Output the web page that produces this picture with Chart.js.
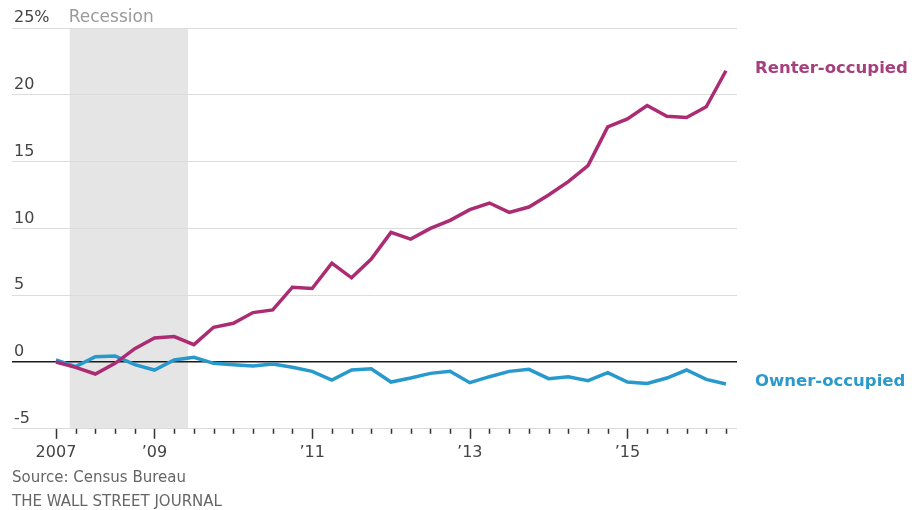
<!DOCTYPE html>
<html>
<head>
<meta charset="utf-8">
<title>Renter vs owner households</title>
<script src="https://cdn.jsdelivr.net/npm/chart.js@4.4.1/dist/chart.umd.min.js"></script>
<style>
  html, body { margin: 0; padding: 0; background: #fff; }
  #wrap { position: relative; width: 914px; height: 510px; }
  #wrap canvas { position: absolute; left: 0; top: 0; }
  .note { position: absolute; left: 12px; font-family: "DejaVu Sans", sans-serif; font-size: 15px; color: #666; line-height: 18px; }
  #source { top: 468px; }
  #credit { top: 492px; }
</style>
</head>
<body>
<div id="wrap">
  <canvas id="myChart" width="914" height="510"></canvas>
  <div class="note" id="source">Source: Census Bureau</div>
  <div class="note" id="credit">THE WALL STREET JOURNAL</div>
</div>
<script>
// quarters, 2007 Q4 through 2016 Q2
const quarters = [
    '2007 Q4',
    '2008 Q1', '2008 Q2', '2008 Q3', '2008 Q4',
    '2009 Q1', '2009 Q2', '2009 Q3', '2009 Q4',
    '2010 Q1', '2010 Q2', '2010 Q3', '2010 Q4',
    '2011 Q1', '2011 Q2', '2011 Q3', '2011 Q4',
    '2012 Q1', '2012 Q2', '2012 Q3', '2012 Q4',
    '2013 Q1', '2013 Q2', '2013 Q3', '2013 Q4',
    '2014 Q1', '2014 Q2', '2014 Q3', '2014 Q4',
    '2015 Q1', '2015 Q2', '2015 Q3', '2015 Q4',
    '2016 Q1', '2016 Q2'
];

// % change in households since 2007
const renterOccupied = [
    0.0, -0.4, -0.9, -0.1, 1.0, 1.8, 1.9, 1.3, 2.6, 2.9, 3.7, 3.9,
    5.6, 5.5, 7.4, 6.3, 7.7, 9.7, 9.2, 10.0, 10.6, 11.4, 11.9, 11.2,
    11.6, 12.5, 13.5, 14.7, 17.6, 18.2, 19.2, 18.4, 18.3, 19.1, 21.8
];
const ownerOccupied = [
    0.15, -0.35, 0.4, 0.45, -0.2, -0.6, 0.15, 0.35, -0.1, -0.2, -0.3, -0.15,
    -0.4, -0.7, -1.35, -0.6, -0.5, -1.5, -1.2, -0.85, -0.7, -1.55, -1.1, -0.7,
    -0.55, -1.25, -1.1, -1.4, -0.8, -1.5, -1.6, -1.2, -0.6, -1.3, -1.65
];

const yTicks = [-5, 0, 5, 10, 15, 20, 25];
const majorQuarters = ['2007 Q4', '2009 Q1', '2011 Q1', '2013 Q1', '2015 Q1'];
const majorLabels = ['2007', '\u201909', '\u201911', '\u201913', '\u201915'];

// recession, in quarter positions
const recession = [0.7, 6.7];

const renterColor = '#ab2c73';
const ownerColor = '#2899cc';
const labelFont = { family: 'DejaVu Sans', size: 16 };

const toPoints = (values) => values.map((v, i) => ({ x: i, y: v }));

const decorations = {
    id: 'decorations',
    beforeDraw(chart) {
        const { ctx, chartArea, scales } = chart;
        const x0 = scales.x.getPixelForValue(recession[0]);
        const x1 = scales.x.getPixelForValue(recession[1]);
        ctx.save();
        ctx.fillStyle = '#e5e5e5';
        ctx.fillRect(x0, chartArea.top, x1 - x0, chartArea.bottom - chartArea.top);
        ctx.fillStyle = '#9a9a9a';
        ctx.font = '17px "DejaVu Sans", sans-serif';
        ctx.textBaseline = 'middle';
        ctx.fillText('Recession', x0 - 1, chartArea.top - 10);
        ctx.restore();
    },
    afterDatasetsDraw(chart) {
        const { ctx, chartArea, scales } = chart;
        ctx.save();
        // quarterly tick marks under the axis
        ctx.strokeStyle = '#333';
        ctx.lineWidth = 1.5;
        quarters.forEach((q, i) => {
            const x = Math.round(scales.x.getPixelForValue(i)) + 0.5;
            const len = majorQuarters.includes(q) ? 10 : 5;
            ctx.beginPath();
            ctx.moveTo(x, chartArea.bottom);
            ctx.lineTo(x, chartArea.bottom + len);
            ctx.stroke();
        });
        // series labels at the line ends
        ctx.font = 'bold 16.5px "DejaVu Sans", sans-serif';
        ctx.textBaseline = 'middle';
        const last = quarters.length - 1;
        ctx.fillStyle = '#a63f7d';
        ctx.fillText('Renter-occupied', 755, scales.y.getPixelForValue(renterOccupied[last]) - 2);
        ctx.fillStyle = '#2a9acb';
        ctx.fillText('Owner-occupied', 755, scales.y.getPixelForValue(ownerOccupied[last]) - 2);
        ctx.restore();
    }
};

new Chart(document.getElementById('myChart'), {
    type: 'line',
    data: {
        datasets: [
            {
                label: 'Renter-occupied',
                data: toPoints(renterOccupied),
                borderColor: renterColor,
                borderWidth: 3.5,
                pointRadius: 0,
                tension: 0
            },
            {
                label: 'Owner-occupied',
                data: toPoints(ownerOccupied),
                borderColor: ownerColor,
                borderWidth: 3.5,
                pointRadius: 0,
                tension: 0
            }
        ]
    },
    options: {
        responsive: false,
        animation: false,
        layout: { padding: { left: 8, right: 177, top: 28, bottom: 42 } },
        plugins: {
            legend: { display: false },
            tooltip: { enabled: false }
        },
        scales: {
            x: {
                type: 'linear',
                min: -2.23,
                max: 34.56,
                afterBuildTicks: (scale) => {
                    scale.ticks = majorQuarters.map(q => ({ value: quarters.indexOf(q) }));
                },
                ticks: {
                    autoSkip: false,
                    maxRotation: 0,
                    padding: 6,
                    color: '#444',
                    font: labelFont,
                    callback: (value) => majorLabels[majorQuarters.indexOf(quarters[value])]
                },
                grid: { display: false },
                border: { display: false }
            },
            y: {
                min: -5,
                max: 25,
                afterBuildTicks: (scale) => {
                    scale.ticks = yTicks.map(v => ({ value: v }));
                },
                ticks: {
                    mirror: true,
                    padding: 2,
                    labelOffset: -10,
                    color: '#444',
                    font: labelFont,
                    callback: (value) => value === 25 ? '25%' : value
                },
                grid: {
                    drawTicks: false,
                    color: (c) => c.tick && c.tick.value === 0 ? '#1a1a1a' : '#dcdcdc',
                    lineWidth: (c) => c.tick && c.tick.value === 0 ? 1.5 : 1
                },
                border: { display: false }
            }
        }
    },
    plugins: [decorations]
});
</script>
</body>
</html>
